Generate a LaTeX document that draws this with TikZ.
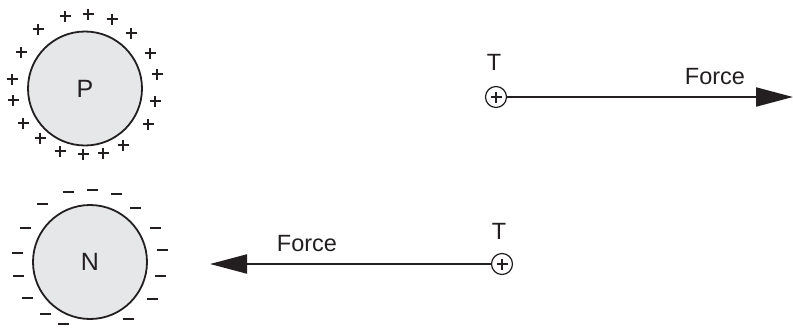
\documentclass[tikz,border=0pt]{standalone}
\usepackage{fontspec}
\setmainfont{Liberation Sans}
\usetikzlibrary{arrows.meta}
\definecolor{ballgray}{HTML}{E6E7E8}
\definecolor{ink}{HTML}{231F20}
\tikzset{
  ball/.style={circle, draw=ink, line width=1.8pt, fill=ballgray, minimum size=114pt, inner sep=0pt, font=\fontsize{25}{28}\selectfont, text=ink},
  testq/.style={circle, draw=ink, line width=1.2pt, fill=white, minimum size=21pt, inner sep=0pt},
  sign/.style={draw=ink, line width=1.2pt},
  lbl/.style={font=\fontsize{23.5}{27}\selectfont, text=ink, inner sep=0pt},
  force/.style={draw=ink, line width=2pt, -{Triangle[length=37pt, width=19pt]}}
}
\begin{document}
\begin{tikzpicture}[x=1pt, y=-1pt]
\useasboundingbox (0,0) rectangle (793,327);
% Positive sphere
\node[ball] (P) at (85,88.5) {P};
\foreach \x/\y in {65/16, 88/14, 112/19, 131/33, 150/53, 157/74, 155/101, 148/124, 123/145, 103/153, 83/154, 60/151, 40/138, 23/123, 13/100, 12/79, 21/52, 38/29}
  \draw[sign] (\x-5.5,\y) -- (\x+5.5,\y) (\x,\y-5.5) -- (\x,\y+5.5);
% Negative sphere
\node[ball] (N) at (90,262) {N};
\foreach \x/\y in {68/192, 92/190, 116/194, 135/208, 155/228, 162/250, 160/276, 152/299, 128/319, 63/324, 45/314, 27/298, 18/276, 17/253, 25/228, 42/204}
  \draw[sign] (\x-5.5,\y) -- (\x+5.5,\y);
% Top test charge
\node[testq] (T1) at (496,97) {};
\draw[sign] (T1.center) ++(-5.5,0) -- ++(11,0) (T1.center) ++(0,-5.5) -- ++(0,11);
\node[lbl] (T1l) at (494,62) {T};
\coordinate (tip1) at (793,97);
\draw[force] (T1.east) -- (tip1);
\node[lbl] (F1) at (715,77) {Force};
% Bottom test charge
\node[testq] (T2) at (502,264) {};
\draw[sign] (T2.center) ++(-5.5,0) -- ++(11,0) (T2.center) ++(0,-5.5) -- ++(0,11);
\node[lbl] (T2l) at (499,231) {T};
\coordinate (tip2) at (210,264);
\draw[force] (T2.west) -- (tip2);
\node[lbl] (F2) at (307,244) {Force};
\end{tikzpicture}
\end{document}
